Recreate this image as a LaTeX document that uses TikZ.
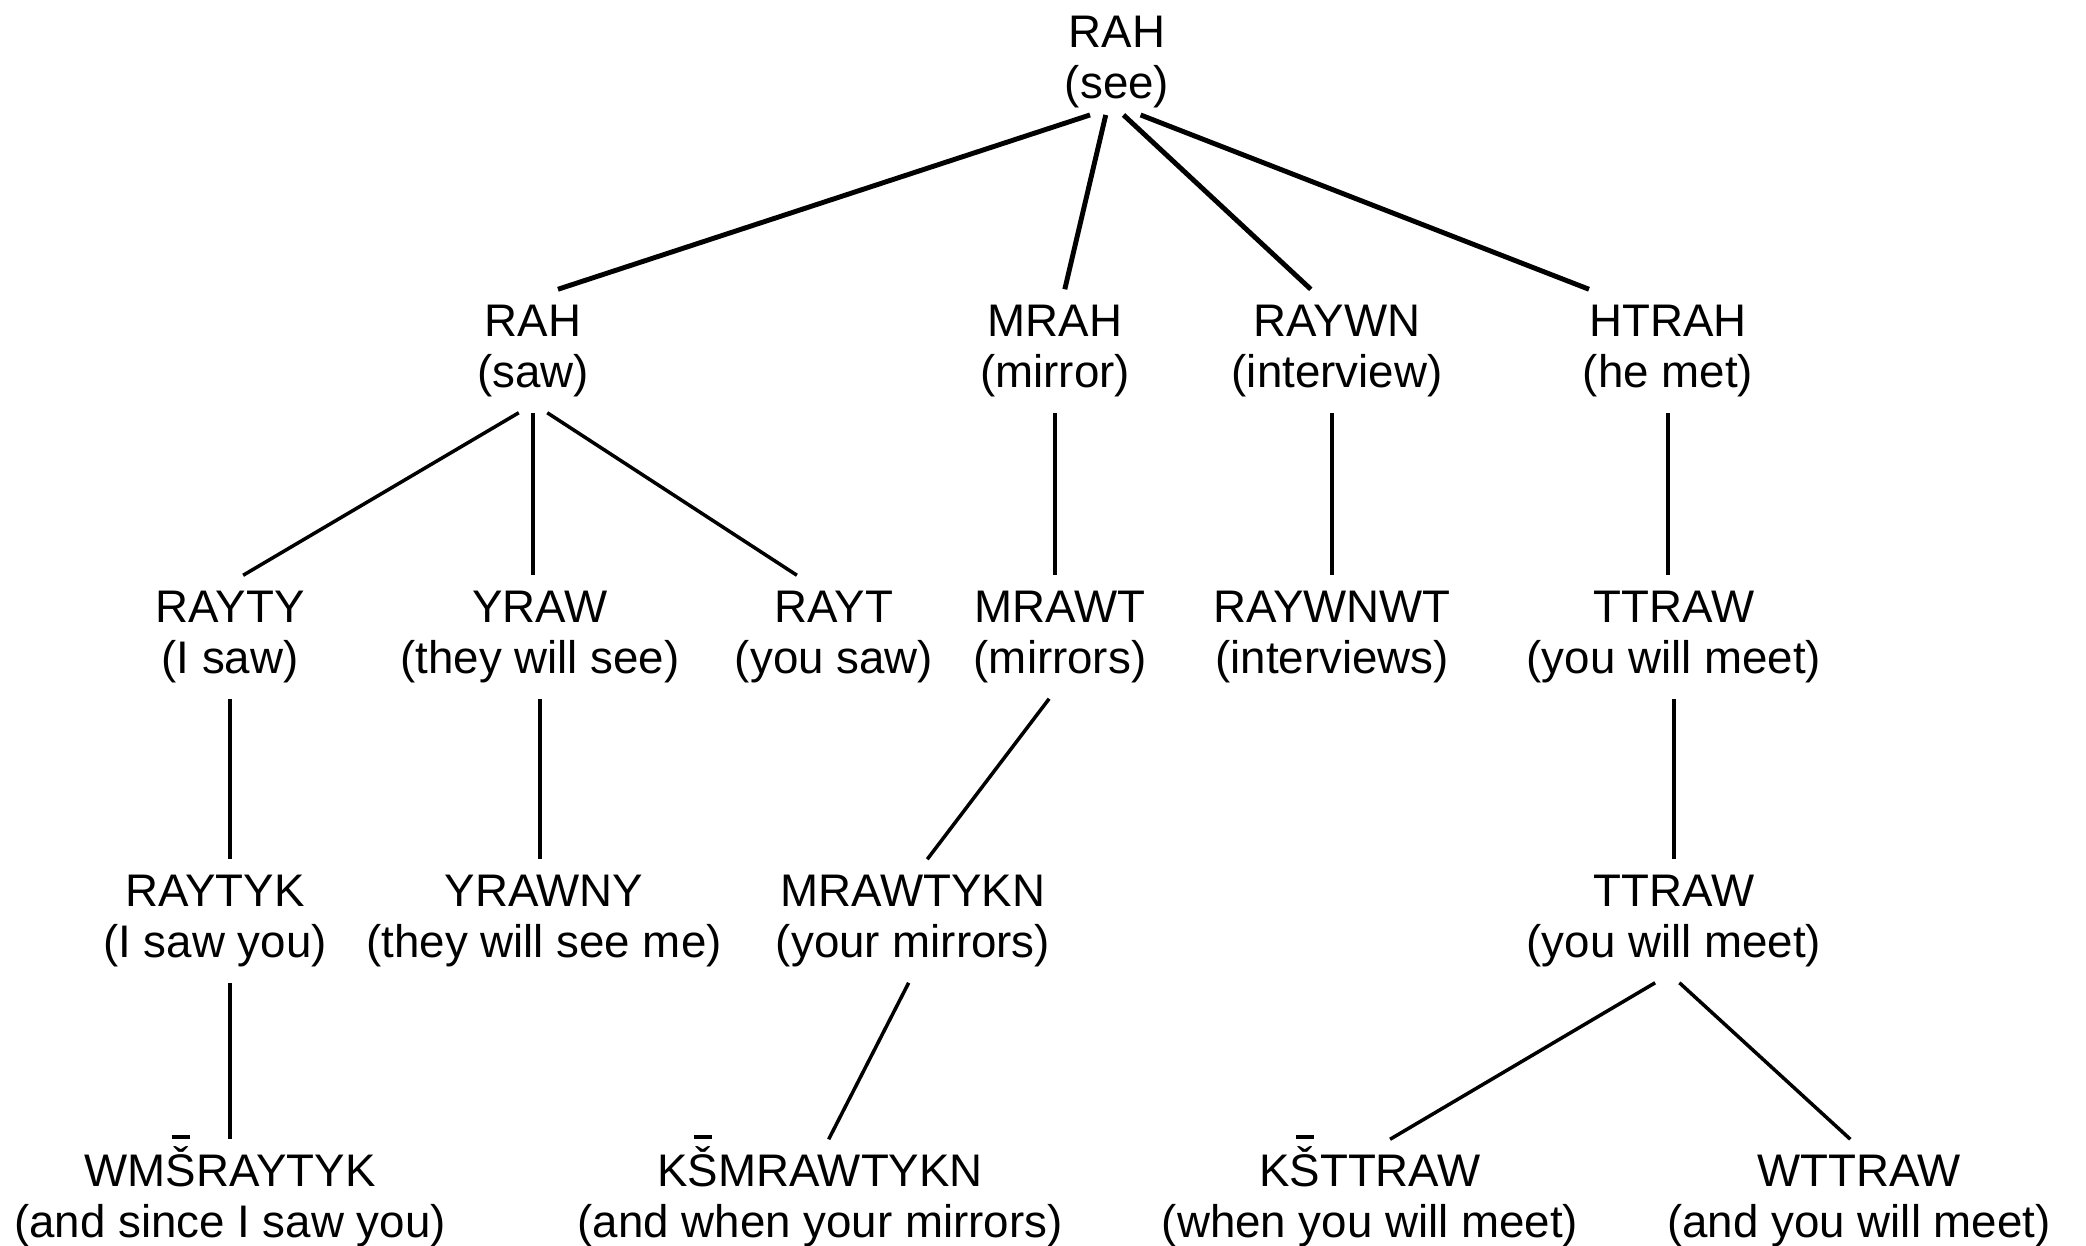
\documentclass[tikz,border=0pt]{standalone}
\usepackage{fontspec}
\setmainfont{Liberation Sans}
\usepackage{tikz}
\tikzset{word/.style={align=center,inner sep=4pt,font=\fontsize{13}{14.5}\selectfont}}
\newcommand{\Sbar}{\smash{\ooalign{\v{S}\cr\hidewidth\smash{\rule[1.05em]{0.4em}{0.075em}}\hidewidth\cr}}}

\begin{document}
\begin{tikzpicture}[x=0.1mm,y=-0.1mm,line width=1pt]
\useasboundingbox (0,0) rectangle (2086,1245);
                   \node[word,inner sep=1.5pt] (rah_see) at (1117,62) {RAH\\(see)};
                   \node[word] (rah_saw) at (533,351) {RAH\\(saw)};
                   \node[word] (mrah) at (1055,351) {MRAH\\(mirror)};
                   \node[word] (raywn) at (1337,351) {RAYWN\\(interview)};
                   \node[word] (htrah) at (1668,351) {HTRAH\\(he met)};
                   \node[word] (rayty) at (230,637) {RAYTY\\(I saw)};
                   \node[word] (yraw) at (540,637) {YRAW\\(they will see)};
                   \node[word] (rayt) at (834,637) {RAYT\\(you saw)};
                   \node[word] (mrawt) at (1060,637) {MRAWT\\(mirrors)};
                   \node[word] (raywnwt) at (1332,637) {RAYWNWT\\(interviews)};
                   \node[word] (ttraw) at (1674,637) {TTRAW\\(you will meet)};
                   \node[word] (raytyk) at (215,921) {RAYTYK\\(I saw you)};
                   \node[word] (yrawny) at (544,921) {YRAWNY\\(they will see me)};
                   \node[word] (mrawtykn) at (913,921) {MRAWTYKN\\(your mirrors)};
                   \node[word] (ttraw_b) at (1674,921) {TTRAW\\(you will meet)};
                   \node[word] (wmsraytyk) at (230,1201) {WM\Sbar RAYTYK\\(and since I saw you)};
                   \node[word] (ksmrawtykn) at (820,1201) {K\Sbar MRAWTYKN\\(and when your mirrors)};
                   \node[word] (ksttraw) at (1370,1201) {K\Sbar TTRAW\\(when you will meet)};
                   \node[word] (wttraw) at (1859,1201) {WTTRAW\\(and you will meet)};
                    \path[line width=1.4pt]
                    (rah_see.243) edge (rah_saw.68)
                    (rah_see.258) edge (mrah.81)
                    (rah_see.277) edge (raywn.113)
                    (rah_see.294) edge (htrah.142);
                    \path
                    (rah_saw.257) edge (rayty.78)
                    (rah_saw.south) edge (rah_saw.south |- yraw.north)
                    (rah_saw.283) edge (rayt.121)
                    (mrah.south) edge (mrah.south |- mrawt.north)
                    (raywnwt.north |- raywn.south) edge (raywnwt.north)
                    (htrah.south) edge (htrah.south |- ttraw.north)
                    (rayty.south) edge (rayty.south |- raytyk.north)
                    (yraw.south) edge (yraw.south |- yrawny.north)
                    (mrawt.260) edge (mrawtykn.77)
                    (ttraw.south) edge (ttraw_b.north)
                    (wmsraytyk.north |- raytyk.south) edge (wmsraytyk.north)
                    (mrawtykn.266) edge (ksmrawtykn.82)
                    (ttraw_b.253) edge (ksttraw.72)
                    (ttraw_b.275) edge (wttraw.98);
\end{tikzpicture}
\end{document}
